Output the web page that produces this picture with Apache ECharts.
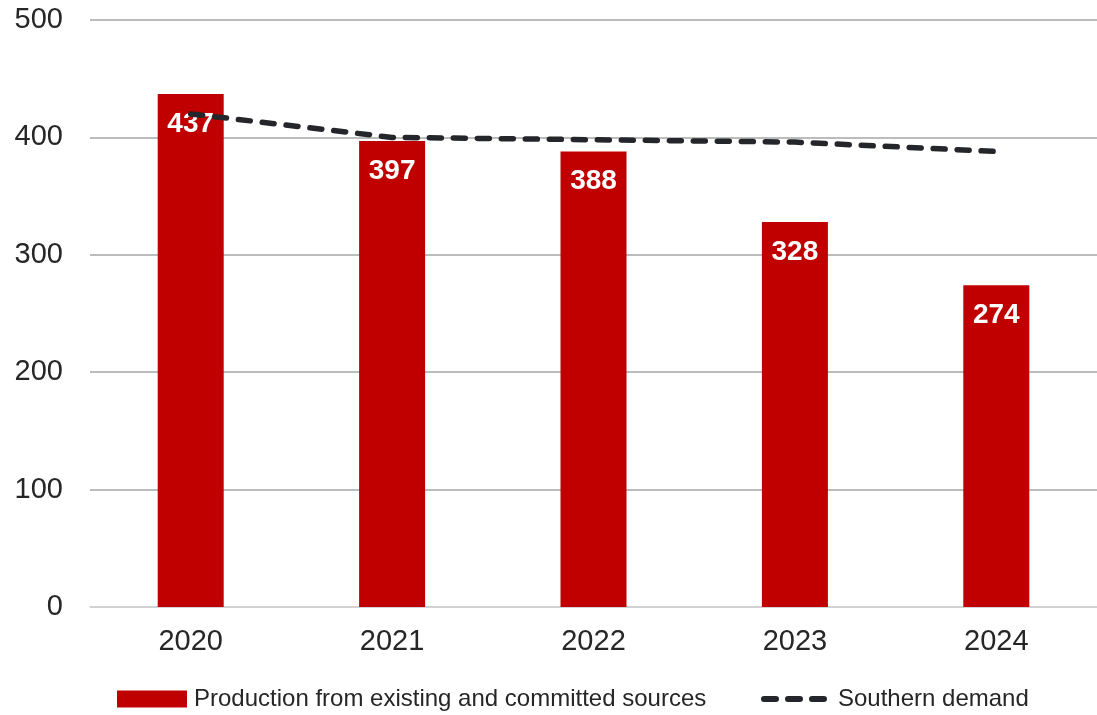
<!DOCTYPE html>
<html>
<head>
<meta charset="utf-8">
<script src="https://cdn.jsdelivr.net/npm/echarts@6/dist/echarts.min.js"></script>
<style>html,body{margin:0;padding:0;background:#fff}#c{width:1097px;height:715px}</style>
</head>
<body>
<div id="c"></div>
<script>
const categories = ['2020', '2021', '2022', '2023', '2024'];
const production = [437, 397, 388, 328, 274];
const demand = [420, 400, 398, 396, 388];
const yTicks = [0, 100, 200, 300, 400, 500];

const chart = echarts.init(document.getElementById('c'), null, {renderer: 'canvas'});
const font = "'Liberation Sans', Arial, sans-serif";
const dashIcon = 'path://M3,0 L15,0 A3,3 0 0 1 15,6 L3,6 A3,3 0 0 1 3,0 Z ' +
  'M27,0 L39,0 A3,3 0 0 1 39,6 L27,6 A3,3 0 0 1 27,0 Z ' +
  'M51,0 L63,0 A3,3 0 0 1 63,6 L51,6 A3,3 0 0 1 51,0 Z';
const legendText = {fontFamily: font, fontSize: 24, color: '#262626'};
chart.setOption({
  animation: false,
  backgroundColor: '#ffffff',
  grid: {left: 90, right: -9, top: 20, bottom: 108, containLabel: false},
  legend: [
    {
      left: 117, top: 687, padding: 0,
      itemWidth: 70, itemHeight: 17,
      textStyle: Object.assign({padding: [0, 0, 0, 2]}, legendText),
      data: [{name: 'Production from existing and committed sources', icon: 'rect'}]
    },
    {
      left: 761, top: 687, padding: 0,
      itemWidth: 66, itemHeight: 6,
      textStyle: Object.assign({padding: [0, 0, 0, 6]}, legendText),
      data: [{name: 'Southern demand', icon: dashIcon, itemStyle: {color: '#25262b', borderWidth: 0}}]
    }
  ],
  xAxis: {
    type: 'category', data: categories,
    axisLine: {lineStyle: {color: '#d9d9d9', width: 1.5}},
    axisTick: {show: false},
    axisLabel: {fontFamily: font, fontSize: 29, color: '#262626', margin: 20}
  },
  yAxis: {
    type: 'value', min: yTicks[0], max: yTicks[yTicks.length - 1], interval: 100,
    axisLine: {show: false}, axisTick: {show: false},
    splitLine: {lineStyle: {color: '#a6a6a6', width: 1.5}},
    axisLabel: {fontFamily: font, fontSize: 29, color: '#262626', margin: 27}
  },
  series: [
    {
      name: 'Production from existing and committed sources',
      type: 'bar', data: production, barWidth: 66,
      itemStyle: {color: '#c00000'},
      label: {show: true, position: 'insideTop', distance: 16, color: '#ffffff',
        fontFamily: font, fontWeight: 'bold', fontSize: 28}
    },
    {
      name: 'Southern demand',
      type: 'line', data: demand, symbol: 'none',
      lineStyle: {color: '#25262b', width: 5.5, type: [12, 12], cap: 'round'},
      itemStyle: {color: '#25262b'}
    }
  ]
});
</script>
</body>
</html>
